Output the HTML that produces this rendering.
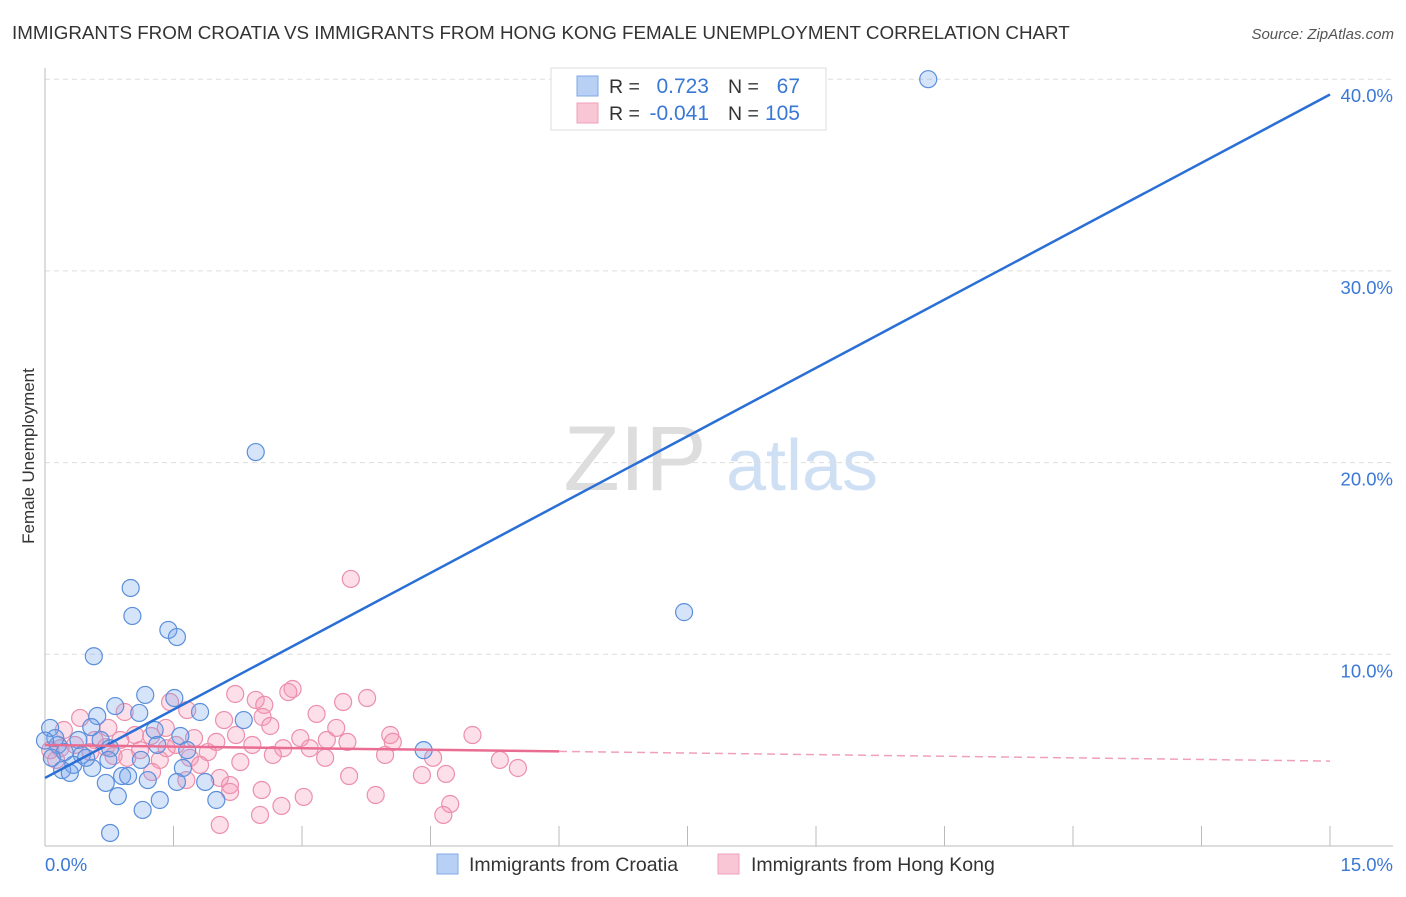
<!DOCTYPE html>
<html><head><meta charset="utf-8"><style>
body{margin:0;background:#fff;font-family:"Liberation Sans",sans-serif;}
svg text{font-family:"Liberation Sans",sans-serif;}
</style></head><body>
<svg id="chart" width="1406" height="892" viewBox="0 0 1406 892">
<text x="12" y="39" font-size="18.8" fill="#333">IMMIGRANTS FROM CROATIA VS IMMIGRANTS FROM HONG KONG FEMALE UNEMPLOYMENT CORRELATION CHART</text>
<text x="1394" y="39" font-size="15" fill="#555" font-style="italic" text-anchor="end">Source: ZipAtlas.com</text>
<g>
<text x="635" y="490" font-size="92" fill="#ddd" text-anchor="middle" font-family="Liberation Serif">ZIP</text>
<text x="802" y="490" font-size="72" fill="#cfe0f5" text-anchor="middle">atlas</text>
</g>
<g id="grid"></g>
<g id="axes"></g>
<g id="pts"></g>
<g id="trends"></g>
<text transform="translate(34,456) rotate(-90)" font-size="17" fill="#333" text-anchor="middle">Female Unemployment</text>
<g>
<rect x="551" y="68" width="275" height="62" fill="#fff" stroke="#ddd"/>
<rect x="577" y="76" width="21" height="20" fill="#b7d0f3" stroke="#7fa8e6"/>
<rect x="577" y="103" width="21" height="20" fill="#f9c6d5" stroke="#eea0b8"/>
<text x="609" y="93" font-size="19.5" fill="#333">R =</text>
<text x="709" y="93" font-size="21" fill="#3a78d6" text-anchor="end">0.723</text>
<text x="728" y="93" font-size="19.5" fill="#333">N =</text>
<text x="800" y="93" font-size="21" fill="#3a78d6" text-anchor="end">67</text>
<text x="609" y="120" font-size="19.5" fill="#333">R =</text>
<text x="709" y="120" font-size="21" fill="#3a78d6" text-anchor="end">-0.041</text>
<text x="728" y="120" font-size="19.5" fill="#333">N =</text>
<text x="800" y="120" font-size="21" fill="#3a78d6" text-anchor="end">105</text>
</g>
<g>
<rect x="437" y="854" width="21" height="20" fill="#b7d0f3" stroke="#7fa8e6"/>
<text x="469" y="871" font-size="19.5" fill="#333">Immigrants from Croatia</text>
<rect x="718" y="854" width="21" height="20" fill="#f9c6d5" stroke="#eea0b8"/>
<text x="751" y="871" font-size="19.5" fill="#333">Immigrants from Hong Kong</text>
</g>
</svg>
<script>
const yTicks=[10,20,30,40];
const yTickLabels=["10.0%","20.0%","30.0%","40.0%"];
const xTickVals=[0,1.5,3,4.5,6,7.5,9,10.5,12,13.5,15];
const croatiaX=[10.31,2.46,1.00,1.02,1.44,1.54,0.57,7.46,1.17,1.51,0.82,1.81,1.10,2.32,0.61,0.54,0.06,1.28,1.58,0.65,0.15,0.39,1.31,1.66,4.42,0.76,0.23,0.43,0.08,0.74,1.12,0.33,0.20,0.55,1.61,0.90,0.97,1.20,1.54,1.87,0.71,0.85,1.34,2.00,1.14,0.76,0.29,0.48,0.12,0.0];
const croatiaY=[40.0,20.55,13.46,12.0,11.27,10.9,9.9,12.2,7.88,7.72,7.3,6.99,6.94,6.57,6.78,6.2,6.16,6.05,5.74,5.53,5.27,5.53,5.27,5.0,5.0,5.1,4.9,4.75,4.6,4.49,4.49,4.23,3.96,4.07,4.07,3.65,3.65,3.44,3.34,3.34,3.29,2.6,2.4,2.4,1.88,0.68,3.81,4.6,5.63,5.5];
const hkX=[3.57,2.89,2.84,2.22,2.46,3.76,3.48,2.56,1.46,1.66,0.93,0.41,3.17,2.54,2.09,1.41,3.40,2.63,1.24,1.74,2.23,2.98,3.29,3.53,4.03,4.06,4.99,0.88,1.53,2.00,2.42,2.78,3.09,0.71,1.11,1.90,2.66,3.27,3.97,4.53,5.31,5.52,1.34,1.69,0.96,0.53,0.18,0.35,0.58,0.06,0.13,2.28,1.81,1.25,3.55,4.40,4.68,2.04,1.65,2.53,2.16,3.02,3.86,2.16,2.76,2.51,4.73,4.65,2.04,0.22,0.74,1.05,1.42,0.80];
const hkY=[13.93,8.19,8.03,7.93,7.62,7.72,7.51,7.36,7.51,7.09,6.99,6.68,6.89,6.73,6.57,6.16,6.16,6.26,5.74,5.63,5.79,5.63,5.53,5.43,5.79,5.43,5.79,5.53,5.27,5.43,5.27,5.1,5.1,5.16,5.0,4.9,4.75,4.6,4.75,4.6,4.49,4.07,4.49,4.6,4.6,4.9,5.1,5.27,5.53,5.0,4.49,4.38,4.23,3.86,3.65,3.7,3.76,3.55,3.44,2.92,3.18,2.56,2.66,2.82,2.09,1.62,2.19,1.62,1.1,6.05,6.16,5.79,5.1,4.7];
const croatiaTrend=[3.55,39.2];
const hkTrend=[5.27,4.43];
const hkSolidEnd=6.0;

const NS="http://www.w3.org/2000/svg";
const X0=45,X1=1330,Y0=846,PX10=191.7;
function sx(v){return X0+v/15*(X1-X0);}
function sy(v){return Y0-v/10*PX10;}
function mk(tag,attrs,parent){const e=document.createElementNS(NS,tag);for(const k in attrs)e.setAttribute(k,attrs[k]);parent.appendChild(e);return e;}
const grid=document.getElementById('grid'),axes=document.getElementById('axes'),pts=document.getElementById('pts'),tr=document.getElementById('trends');
yTicks.forEach((t,i)=>{
 const l=mk('line',{x1:45,x2:1393,y1:sy(t),y2:sy(t),stroke:'#ddd','stroke-dasharray':'5,4'},grid);
 
 
 const tx=mk('text',{x:1393,y:sy(t)+23,'font-size':18.5,fill:'#3a78d6','text-anchor':'end'},axes);
 tx.textContent=yTickLabels[i];
 
 
});
const xa=mk('line',{x1:45,x2:1393,y1:Y0,y2:Y0,stroke:'#bbb'},axes);


const ya=mk('line',{x1:X0,x2:X0,y1:68,y2:Y0,stroke:'#bbb'},axes);


xTickVals.slice(1).forEach(v=>{
 const t=mk('line',{x1:sx(v),x2:sx(v),y1:826,y2:Y0,stroke:'#bbb'},axes);
 
 
});
const xl0=mk('text',{x:45,y:871,'font-size':18.5,fill:'#3a78d6'},axes);xl0.textContent='0.0%';


const xl1=mk('text',{x:1393,y:871,'font-size':18.5,fill:'#3a78d6','text-anchor':'end'},axes);xl1.textContent='15.0%';


hkX.forEach((x,i)=>{
 const c=mk('circle',{cx:sx(x),cy:sy(hkY[i]),r:8.5,fill:'rgba(244,150,178,0.3)',stroke:'#ec8fad','stroke-width':1.2},pts);
 
 
});
croatiaX.forEach((x,i)=>{
 const c=mk('circle',{cx:sx(x),cy:sy(croatiaY[i]),r:8.5,fill:'rgba(120,165,235,0.3)',stroke:'#5b8fdc','stroke-width':1.2},pts);
 
 
});
const bl=mk('line',{x1:sx(0),y1:sy(croatiaTrend[0]),x2:sx(15),y2:sy(croatiaTrend[1]),stroke:'#2a6fd6','stroke-width':2.5},tr);


const hkAt=v=>hkTrend[0]+(hkTrend[1]-hkTrend[0])*v/15;
const pl=mk('line',{x1:sx(0),y1:sy(hkTrend[0]),x2:sx(hkSolidEnd),y2:sy(hkAt(hkSolidEnd)),stroke:'#e96d93','stroke-width':2.5},tr);


const pd=mk('line',{x1:sx(hkSolidEnd),y1:sy(hkAt(hkSolidEnd)),x2:sx(15),y2:sy(hkTrend[1]),stroke:'#f0a0b8','stroke-width':1.5,'stroke-dasharray':'8,5'},tr);


</script>
</body></html>
